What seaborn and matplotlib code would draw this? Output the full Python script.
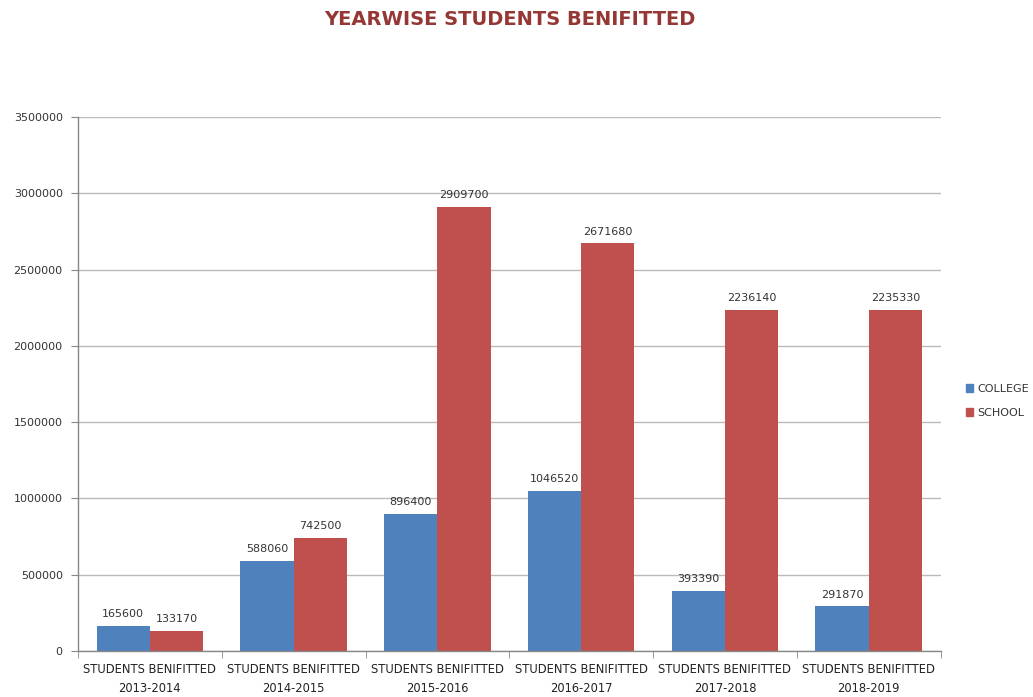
import numpy as np
import pandas as pd
import matplotlib
matplotlib.use("Agg")
import matplotlib.pyplot as plt
import seaborn as sns

years = ["2013-2014", "2014-2015", "2015-2016", "2016-2017", "2017-2018", "2018-2019"]
college = [165600, 588060, 896400, 1046520, 393390, 291870]
school = [133170, 742500, 2909700, 2671680, 2236140, 2235330]
series = ["COLLEGE", "SCHOOL"]
colors = ["#4F81BD", "#C0504D"]

categories = ["STUDENTS BENIFITTED\n" + y for y in years]
df = pd.DataFrame({
    "cat": categories * 2,
    "type": [series[0]] * len(years) + [series[1]] * len(years),
    "value": college + school,
})

sns.set_style("white")
plt.rcParams["font.family"] = ["DejaVu Sans"]

fig = plt.figure(figsize=(10.33, 6.97), dpi=100)
ax = fig.add_axes([0.0755, 0.066, 0.835, 0.766])

sns.barplot(data=df, x="cat", y="value", hue="type", palette=colors,
            width=0.74, saturation=1, linewidth=0, ax=ax, legend=False)

# data labels
for cont in ax.containers:
    ax.bar_label(cont, labels=[str(int(v)) for v in cont.datavalues],
                 fontsize=8, color="#333333", padding=5)

ax.set_ylim(0, 3500000)
ax.set_xlim(-0.5, len(years) - 0.5)
ax.set_yticks(np.arange(0, 3500001, 500000))
ax.set_yticklabels([str(v) for v in range(0, 3500001, 500000)], fontsize=8, color="#333333")
ax.yaxis.grid(True, color="#BBBBBB", linewidth=1)
ax.set_axisbelow(True)
ax.set_xlabel("")
ax.set_ylabel("")
ax.set_xticks(range(len(years)))
ax.set_xticklabels(categories, fontsize=8.3, color="#222222", linespacing=1.6)
ax.set_xticks(np.arange(-0.5, len(years), 1), minor=True)
ax.tick_params(axis="x", which="major", length=0, pad=9)
ax.tick_params(axis="x", which="minor", bottom=True, length=5, color="#888888", direction="out")
ax.tick_params(axis="y", length=5, color="#888888", direction="out", left=True, pad=6)
for s in ["top", "right"]:
    ax.spines[s].set_visible(False)
for s in ["left", "bottom"]:
    ax.spines[s].set_color("#888888")
    ax.spines[s].set_linewidth(1)

handles = [plt.Rectangle((0, 0), 1, 1, color=c) for c in colors]
fig.legend(handles, series, loc="center left", bbox_to_anchor=(0.925, 0.425),
           frameon=False, fontsize=8, handlelength=0.7, handleheight=0.7,
           handletextpad=0.4, labelspacing=1.3, labelcolor="#333333")

fig.suptitle("YEARWISE STUDENTS BENIFITTED", x=0.494, y=0.985,
             fontsize=14, fontweight="bold", color="#953735")

fig.savefig("out.png", dpi=100)
